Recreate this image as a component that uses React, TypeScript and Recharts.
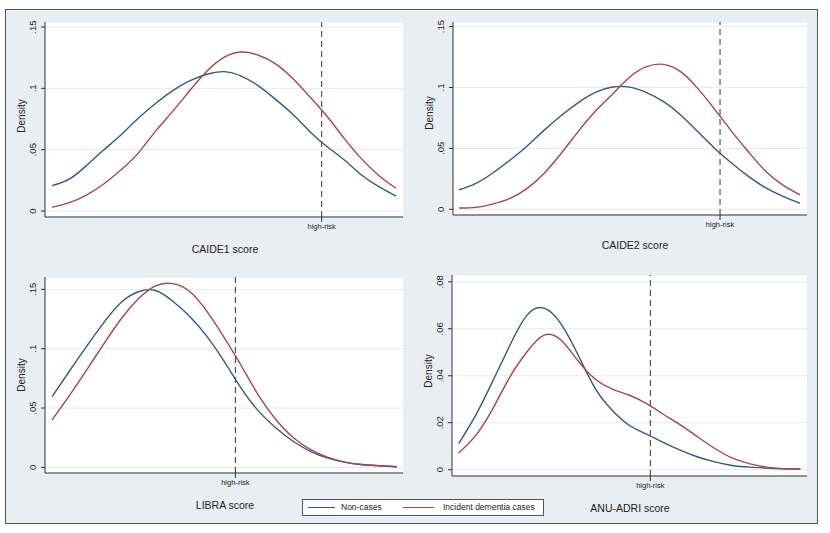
import {
    CartesianGrid,
    Line,
    LineChart,
    ReferenceLine,
    XAxis,
    YAxis,
} from "recharts";

// positions along each score axis (evenly spaced reading points)
const scorePos = [0, 1, 2, 3, 4, 5, 6, 7, 8, 9, 10, 11, 12, 13, 14, 15, 16, 17, 18, 19, 20];

const caide1NonCases = [0.0207, 0.026, 0.037, 0.0497, 0.062, 0.0755, 0.0875, 0.098, 0.106, 0.1115, 0.1136, 0.11, 0.102, 0.091, 0.0788, 0.0647, 0.0524, 0.0416, 0.0293, 0.0198, 0.0122];
const caide1Incident = [0.003, 0.0068, 0.013, 0.022, 0.0334, 0.047, 0.0647, 0.081, 0.098, 0.114, 0.1253, 0.1296, 0.127, 0.12, 0.108, 0.093, 0.077, 0.059, 0.0425, 0.029, 0.0185];

const caide2NonCases = [0.0159, 0.0213, 0.03, 0.0405, 0.052, 0.065, 0.077, 0.0876, 0.096, 0.1004, 0.1003, 0.0958, 0.0884, 0.0775, 0.0638, 0.05, 0.0378, 0.0268, 0.0175, 0.0106, 0.0049];
const caide2Incident = [0.001, 0.0016, 0.0044, 0.009, 0.0172, 0.0296, 0.046, 0.064, 0.0805, 0.0945, 0.1085, 0.1172, 0.119, 0.113, 0.0993, 0.0821, 0.0638, 0.0468, 0.031, 0.0198, 0.0118];

const libraNonCases = [0.0596, 0.081, 0.102, 0.122, 0.139, 0.148, 0.149, 0.14, 0.127, 0.11, 0.089, 0.066, 0.047, 0.033, 0.0218, 0.0134, 0.0078, 0.0042, 0.0022, 0.0014, 0.0006];
const libraIncident = [0.04, 0.0605, 0.082, 0.104, 0.125, 0.142, 0.153, 0.1548, 0.148, 0.131, 0.109, 0.085, 0.06, 0.04, 0.025, 0.015, 0.0085, 0.0045, 0.0024, 0.0014, 0.0006];

const anuNonCases = [0.0111, 0.0232, 0.0378, 0.053, 0.0658, 0.0688, 0.062, 0.0487, 0.0345, 0.0252, 0.0188, 0.0151, 0.0115, 0.0082, 0.0054, 0.0033, 0.0018, 0.0011, 0.0007, 0.0004, 0.0003];
const anuIncident = [0.0071, 0.0146, 0.026, 0.0395, 0.0502, 0.0573, 0.0551, 0.0462, 0.0385, 0.0343, 0.0317, 0.0281, 0.0235, 0.019, 0.0139, 0.009, 0.005, 0.0026, 0.0011, 0.0004, 0.0003];

const ticks15 = [0, 0.05, 0.1, 0.15];
const ticks08 = [0, 0.02, 0.04, 0.06, 0.08];

const seriesNames = ["Non-cases", "Incident dementia cases"];
const scoreTitles = ["CAIDE1 score", "CAIDE2 score", "LIBRA score", "ANU-ADRI score"];

const BLUE = "#305a88";
const RED = "#a8444c";
const FONT = "'Liberation Sans', Arial, sans-serif";

function stataNum(v: number) {
    if (v === 0) return "0";
    return String(v).replace(/^0/, "");
}

function YTick(props: any) {
    const { x, y, payload } = props;
    return (
        <text
            x={x}
            y={y}
            transform={`rotate(-90 ${x} ${y})`}
            textAnchor="middle"
            fontSize={9.5}
            fontFamily={FONT}
            fill="#222"
        >
            {stataNum(payload.value)}
        </text>
    );
}

function XTick(props: any) {
    const { x, y } = props;
    return (
        <text
            x={x}
            y={y}
            dy="0.71em"
            textAnchor="middle"
            fontSize={7.5}
            fontFamily={FONT}
            fill="#222"
        >
            high-risk
        </text>
    );
}

type PanelProps = {
    plot: { x0: number; x1: number; y0: number; y1: number };
    xDomain: [number, number];
    yDomain: [number, number];
    yTicks: number[];
    highRisk: number;
    nonCases: number[];
    incident: number[];
    title: string;
    titlePos: [number, number];
    densityPos: [number, number];
};

function DensityPanel({
    plot,
    xDomain,
    yDomain,
    yTicks,
    highRisk,
    nonCases,
    incident,
    title,
    titlePos,
    densityPos,
}: PanelProps) {
    const yAxisW = 40;
    const xAxisH = 20;
    const left = plot.x0 - yAxisW;
    const top = plot.y0 - 5;
    const width = plot.x1 - left + 5;
    const height = plot.y1 - top + xAxisH + 5;
    const data = scorePos.map((x, i) => ({
        x,
        non: nonCases[i],
        inc: incident[i],
    }));

    return (
        <>
            <div style={{ position: "absolute", left, top }}>
                <LineChart
                    width={width}
                    height={height}
                    data={data}
                    margin={{ top: 5, right: 5, bottom: 5, left: 0 }}
                >
                    <CartesianGrid
                        vertical={false}
                        stroke="#e3ebee"
                        fill="#ffffff"
                    />
                    <XAxis
                        dataKey="x"
                        type="number"
                        domain={xDomain}
                        ticks={[highRisk]}
                        height={xAxisH}
                        stroke="#333"
                        tickSize={5}
                        tickMargin={2}
                        tick={<XTick />}
                        allowDataOverflow
                    />
                    <YAxis
                        type="number"
                        domain={yDomain}
                        ticks={yTicks}
                        width={yAxisW}
                        stroke="#333"
                        tickSize={4}
                        tickMargin={5}
                        tick={<YTick />}
                        allowDataOverflow
                    />
                    <ReferenceLine
                        x={highRisk}
                        stroke="#333"
                        strokeDasharray="6 4"
                        strokeWidth={1}
                    />
                    <Line
                        type="natural"
                        dataKey="non"
                        stroke={BLUE}
                        strokeWidth={1.4}
                        dot={false}
                        isAnimationActive={false}
                    />
                    <Line
                        type="natural"
                        dataKey="inc"
                        stroke={RED}
                        strokeWidth={1.4}
                        dot={false}
                        isAnimationActive={false}
                    />
                </LineChart>
            </div>
            <div
                style={{
                    position: "absolute",
                    left: densityPos[0],
                    top: densityPos[1],
                    transform: "translate(-50%, -50%) rotate(-90deg)",
                    fontSize: 10,
                    fontFamily: FONT,
                    color: "#222",
                    whiteSpace: "nowrap",
                }}
            >
                Density
            </div>
            <div
                style={{
                    position: "absolute",
                    left: titlePos[0],
                    top: titlePos[1],
                    transform: "translate(-50%, -50%)",
                    fontSize: 10.5,
                    fontFamily: FONT,
                    color: "#222",
                    whiteSpace: "nowrap",
                }}
            >
                {title}
            </div>
        </>
    );
}

export default function App() {
    return (
        <div
            style={{
                position: "absolute",
                left: 0,
                top: 0,
                width: 830,
                height: 533,
                background: "#ffffff",
                overflow: "hidden",
            }}
        >
            <div
                style={{
                    position: "absolute",
                    left: 5,
                    top: 9,
                    width: 811,
                    height: 513,
                    background: "#e8eef1",
                    border: "1px solid #555",
                }}
            />

            <DensityPanel
                plot={{ x0: 45, x1: 403, y0: 22, y1: 217 }}
                xDomain={[-0.41, 20.41]}
                yDomain={[-0.0049, 0.1541]}
                yTicks={ticks15}
                highRisk={15.68}
                nonCases={caide1NonCases}
                incident={caide1Incident}
                title={scoreTitles[0]}
                titlePos={[225, 249]}
                densityPos={[21, 116]}
            />
            <DensityPanel
                plot={{ x0: 453, x1: 807, y0: 22, y1: 215 }}
                xDomain={[-0.35, 20.41]}
                yDomain={[-0.0047, 0.1538]}
                yTicks={ticks15}
                highRisk={15.31}
                nonCases={caide2NonCases}
                incident={caide2Incident}
                title={scoreTitles[1]}
                titlePos={[635, 245]}
                densityPos={[429, 113]}
            />
            <DensityPanel
                plot={{ x0: 45, x1: 403, y0: 277, y1: 473 }}
                xDomain={[-0.41, 20.35]}
                yDomain={[-0.0047, 0.1604]}
                yTicks={ticks15}
                highRisk={10.63}
                nonCases={libraNonCases}
                incident={libraIncident}
                title={scoreTitles[2]}
                titlePos={[225, 505]}
                densityPos={[21, 375]}
            />
            <DensityPanel
                plot={{ x0: 452, x1: 807, y0: 275, y1: 476 }}
                xDomain={[-0.39, 20.39]}
                yDomain={[-0.0027, 0.0829]}
                yTicks={ticks08}
                highRisk={11.22}
                nonCases={anuNonCases}
                incident={anuIncident}
                title={scoreTitles[3]}
                titlePos={[630, 508]}
                densityPos={[428, 371]}
            />

            {/* legend */}
            <div
                style={{
                    position: "absolute",
                    left: 302,
                    top: 499,
                    width: 240,
                    height: 15,
                    background: "#ffffff",
                    border: "1px solid #555",
                    fontFamily: FONT,
                    fontSize: 8.5,
                    color: "#222",
                }}
            >
                <div style={{ position: "absolute", left: 5, top: 7, width: 27, height: 1.4, background: BLUE }} />
                <div style={{ position: "absolute", left: 38, top: 2, whiteSpace: "nowrap" }}>{seriesNames[0]}</div>
                <div style={{ position: "absolute", left: 100, top: 7, width: 31, height: 1.4, background: RED }} />
                <div style={{ position: "absolute", left: 140, top: 2, whiteSpace: "nowrap" }}>{seriesNames[1]}</div>
            </div>
        </div>
    );
}
